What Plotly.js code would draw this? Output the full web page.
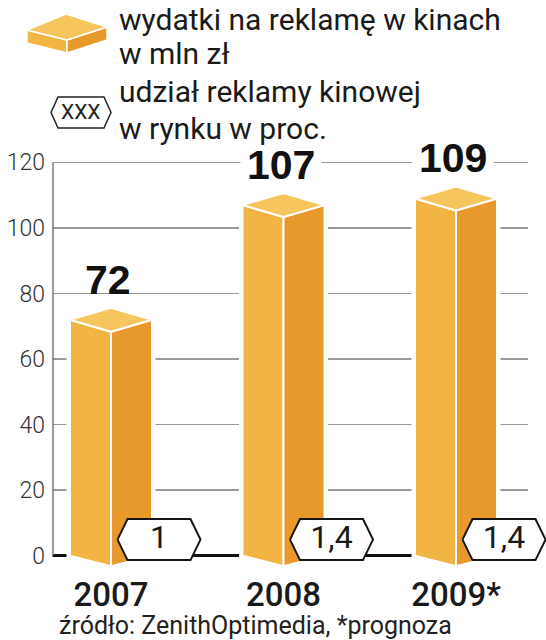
<!DOCTYPE html>
<html><head><meta charset="utf-8">
<script src="https://cdn.plot.ly/plotly-3.0.1.min.js"></script>
<style>html,body{margin:0;padding:0;background:#fff;}#chart{width:546px;height:640px;}</style>
</head><body><div id="chart"></div>
<script>
// ---- data ----
const categories = ['2007', '2008', '2009*'];
const spending = [72, 107, 109];
const shareLabels = ['1', '1,4', '1,4'];
const yTickValues = [0, 20, 40, 60, 80, 100, 120];
const legendSpend = ['wydatki na reklamę w kinach', 'w mln zł'];
const legendShare = ['udział reklamy kinowej', 'w rynku w proc.'];
const legendShareSample = 'XXX';
const sourceNote = 'źródło: ZenithOptimedia, *prognoza';

// ---- geometry / style ----
const W = 546, H = 640, ML = 50, MR = 0, MT = 146, MB = 68;
const PW = W - ML - MR, PH = H - MT - MB;
const PX_PER_CAT = 172.5;
const FIRST_BAR_PX = 111;
const X0 = -(FIRST_BAR_PX - ML) / PX_PER_CAT;
const X1 = X0 + PW / PX_PER_CAT;
const Y0 = -5, Y1 = 125;
const PX_PER_Y = PH / (Y1 - Y0);
const dx = p => p / PX_PER_CAT;
const dy = p => p / PX_PER_Y;
const paperX = p => (p - ML) / PW;
const paperY = p => 1 - (p - MT) / PH;
const AXIS_X = X0 + dx(53 - ML);
const GRID_END_X = X0 + dx(528 - ML);

const C_LEFT = '#F2B443', C_RIGHT = '#E8992C', C_TOP = '#F6C55E';
const FONT = 'Roboto, "Open Sans", sans-serif';

const HW = dx(41), TOP_OFF = dy(12), BOT_OFF = dy(10.5);
const HEX_DX = dx(48), HEX_HW = dx(41.5), HEX_IN = dx(10), HEX_HH = dy(20.5), HEX_CY = dy(16);

function poly(xs, ys, fill, lineColor, lineWidth) {
  return {type: 'scatter', mode: 'lines', x: xs.concat([xs[0]]), y: ys.concat([ys[0]]),
    fill: 'toself', fillcolor: fill, line: {color: lineColor, width: lineWidth},
    hoverinfo: 'skip', showlegend: false};
}

const traces = [];
categories.forEach((c, i) => {
  const v = spending[i];
  traces.push(poly([i - HW, i, i + HW, i + HW, i, i - HW], [v, v + TOP_OFF, v, 0, -BOT_OFF, 0], '#fff', '#fff', 7));
  traces.push(poly([i - HW, i, i, i - HW], [v, v - TOP_OFF, -BOT_OFF, 0], C_LEFT, '#fff', 2));
  traces.push(poly([i, i + HW, i + HW, i], [v - TOP_OFF, v, 0, -BOT_OFF], C_RIGHT, '#fff', 2));
  traces.push(poly([i - HW, i, i + HW, i], [v, v + TOP_OFF, v, v - TOP_OFF], C_TOP, '#fff', 2));
});
categories.forEach((c, i) => {
  const cx = i + HEX_DX, cy = HEX_CY;
  traces.push(poly(
    [cx - HEX_HW, cx - HEX_HW + HEX_IN, cx + HEX_HW - HEX_IN, cx + HEX_HW, cx + HEX_HW - HEX_IN, cx - HEX_HW + HEX_IN],
    [cy, cy + HEX_HH, cy + HEX_HH, cy, cy - HEX_HH, cy - HEX_HH], '#fff', '#151515', 2));
  traces.push({type: 'scatter', mode: 'text', x: [cx], y: [cy], text: [shareLabels[i]],
    textposition: 'middle center', cliponaxis: false, hoverinfo: 'skip', showlegend: false,
    textfont: {family: FONT, size: 32, color: '#1a1a1a'}});
});

const annotations = [];
categories.forEach((c, i) => {
  const v = spending[i];
  annotations.push({x: i + dx(-3), y: v, xref: 'x', yref: 'y', text: String(v), showarrow: false,
    yanchor: 'bottom', yshift: 10, borderpad: 6,
    bgcolor: v > 100 ? '#fff' : 'rgba(0,0,0,0)',
    font: {family: '"Liberation Sans", Arial, sans-serif', size: 41, weight: 700, color: '#111'}});
});
const legendLines = [[legendSpend[0], 19], [legendSpend[1], 53], [legendShare[0], 92], [legendShare[1], 128]];
legendLines.forEach(([t, yc]) => {
  annotations.push({x: paperX(117), y: paperY(yc), xref: 'paper', yref: 'paper', text: t, showarrow: false,
    xanchor: 'left', yanchor: 'middle', font: {family: FONT, size: 30, color: '#1a1a1a'}});
});
annotations.push({x: paperX(81), y: paperY(112.5), xref: 'paper', yref: 'paper', text: legendShareSample,
  showarrow: false, xanchor: 'center', yanchor: 'middle', font: {family: FONT, size: 21, color: '#222'}});
annotations.push({x: paperX(57), y: paperY(625), xref: 'paper', yref: 'paper', text: sourceNote,
  showarrow: false, xanchor: 'left', yanchor: 'middle', font: {family: FONT, size: 25, color: '#222'}});

function pPath(pts) {
  return 'M' + pts.map(p => paperX(p[0]).toFixed(5) + ',' + paperY(p[1]).toFixed(5)).join(' L') + ' Z';
}
const shapes = [
  {type: 'rect', xref: 'x', yref: 'y', x0: X0, x1: AXIS_X - dx(0.5), y0: Y0, y1: Y1, fillcolor: '#fff', line: {width: 0}, layer: 'between'},
  {type: 'rect', xref: 'x', yref: 'y', x0: GRID_END_X, x1: X1, y0: Y0, y1: Y1, fillcolor: '#fff', line: {width: 0}, layer: 'between'},
  {type: 'line', xref: 'x', yref: 'y', x0: AXIS_X, x1: AXIS_X, y0: 0, y1: 120, line: {color: '#7a7a7a', width: 1.5}, layer: 'between'},
  {type: 'path', xref: 'paper', yref: 'paper', path: pPath([[27, 30], [67, 40], [67, 53], [27, 43]]), fillcolor: C_LEFT, line: {color: '#fff', width: 1.5}, layer: 'above'},
  {type: 'path', xref: 'paper', yref: 'paper', path: pPath([[67, 40], [107, 27], [107, 40], [67, 53]]), fillcolor: C_RIGHT, line: {color: '#fff', width: 1.5}, layer: 'above'},
  {type: 'path', xref: 'paper', yref: 'paper', path: pPath([[27, 30], [66, 14], [107, 27], [67, 40]]), fillcolor: C_TOP, line: {color: '#fff', width: 1.5}, layer: 'above'},
  {type: 'path', xref: 'paper', yref: 'paper', path: pPath([[51, 112.5], [58, 97], [104, 97], [111, 112.5], [104, 128], [58, 128]]), fillcolor: '#fff', line: {color: '#222', width: 1.5}, layer: 'above'}
];

const layout = {
  width: W, height: H, margin: {l: ML, r: MR, t: MT, b: MB},
  paper_bgcolor: '#fff', plot_bgcolor: '#fff', showlegend: false,
  xaxis: {range: [X0, X1], tickmode: 'array', tickvals: categories.map((c, i) => i), ticktext: categories,
    showgrid: false, zeroline: false, showline: false, ticks: '', fixedrange: true,
    tickfont: {family: FONT, size: 33, weight: 500, color: '#1a1a1a'}},
  yaxis: {range: [Y0, Y1], tickmode: 'array', tickvals: yTickValues, ticktext: yTickValues.map(String),
    showgrid: true, gridcolor: '#9a9a9a', gridwidth: 1.5, zeroline: true, zerolinecolor: '#111', zerolinewidth: 2.5,
    showline: false, ticks: '', fixedrange: true, ticklabelstandoff: 4,
    tickfont: {family: FONT, size: 23, weight: 300, color: '#333'}},
  shapes: shapes, annotations: annotations
};
Plotly.newPlot('chart', traces, layout, {displayModeBar: false, staticPlot: true});
</script></body></html>
